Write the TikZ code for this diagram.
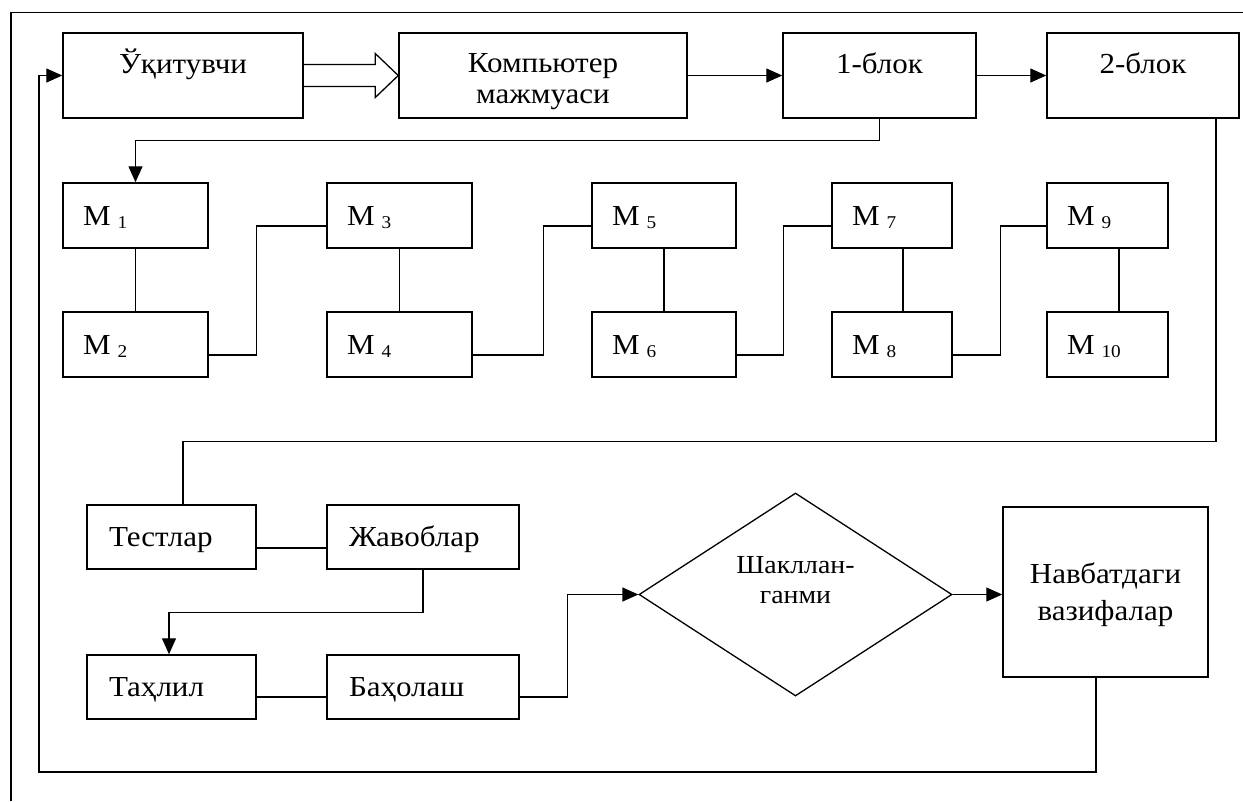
\documentclass[tikz,border=0pt]{standalone}
\usepackage{fontspec}
\setmainfont[FakeStretch=1.07]{Liberation Serif}
\usetikzlibrary{arrows.meta,calc,shapes.geometric}
\newcommand{\Ms}[1]{М\hspace{7pt}{\fontsize{18}{18}\selectfont\raisebox{-3pt}{#1}}}
\begin{document}
\begin{tikzpicture}[x=1pt,y=-1pt,
  font=\fontsize{29}{31}\selectfont,
  boxline/.style={draw, line width=1.5pt, inner sep=0pt},
  tbox/.style={boxline, minimum height=85pt, text height=19.2pt, text depth=24.2pt},
  mbox/.style={boxline, inner xsep=20pt, minimum height=65pt, text height=19.2pt, text depth=0pt},
  sbox/.style={boxline, inner xsep=22pt, minimum height=64pt, text height=19.2pt, text depth=0pt},
  conn/.style={line width=1.3pt},
  arr/.style={conn, -{Triangle[length=16pt,width=14pt]}},
]
\useasboundingbox (0,0) rectangle (1243,801);
% outer frame (partly outside the picture)
\draw[line width=1.5pt] (1243,12.7) -- (11,12.7) -- (11,801);

% top row
\node[tbox, minimum width=240pt] (u) at (183,75.5) {Ўқитувчи};
\node[tbox, minimum width=288pt, text depth=26.2pt] (k) at (543,75.5) {\begin{tabular}[t]{@{}c@{}}Компьютер\\мажмуаси\end{tabular}};
\node[tbox, minimum width=193pt] (b1) at (879.5,75.5) {1-блок};
\node[tbox, minimum width=192pt] (b2) at (1143,75.5) {2-блок};

% modules
\node[mbox, minimum width=145pt] (M1) at (135.5,215.5) {\makebox[105pt][l]{\Ms{1}}};
\node[mbox, minimum width=145pt] (M2) at (135.5,344.5) {\makebox[105pt][l]{\Ms{2}}};
\node[mbox, minimum width=145pt] (M3) at (399.5,215.5) {\makebox[105pt][l]{\Ms{3}}};
\node[mbox, minimum width=145pt] (M4) at (399.5,344.5) {\makebox[105pt][l]{\Ms{4}}};
\node[mbox, minimum width=144pt] (M5) at (664,215.5) {\makebox[104pt][l]{\Ms{5}}};
\node[mbox, minimum width=144pt] (M6) at (664,344.5) {\makebox[104pt][l]{\Ms{6}}};
\node[mbox, minimum width=120pt] (M7) at (892,215.5) {\makebox[80pt][l]{\Ms{7}}};
\node[mbox, minimum width=120pt] (M8) at (892,344.5) {\makebox[80pt][l]{\Ms{8}}};
\node[mbox, minimum width=121pt] (M9) at (1107.5,215.5) {\makebox[81pt][l]{\Ms{9}}};
\node[mbox, minimum width=121pt] (M10) at (1107.5,344.5) {\makebox[81pt][l]{\Ms{10}}};

% bottom part
\node[sbox, minimum width=169pt] (t) at (171.5,537) {\makebox[125pt][l]{Тестлар}};
\node[sbox, minimum width=192pt] (j) at (423,537) {\makebox[148pt][l]{Жавоблар}};
\node[sbox, minimum width=169pt] (th) at (171.5,687) {\makebox[125pt][l]{Таҳлил}};
\node[sbox, minimum width=192pt] (bh) at (423,687) {\makebox[148pt][l]{Баҳолаш}};

\node[draw, diamond, line width=1.3pt, inner sep=0pt, aspect=1.54,
      minimum width=313pt, minimum height=203pt,
      font=\fontsize{26}{30}\selectfont, text height=17.2pt, text depth=60.2pt]
      (d) at (795.5,594.5) {\begin{tabular}[t]{@{}c@{}}Шаклла\rlap{н-}\hphantom{н-}\\ганми\end{tabular}};
\node[boxline, minimum width=205pt, minimum height=170pt,
      font=\fontsize{29}{37}\selectfont, text height=19.2pt, text depth=37.2pt]
      (n) at (1105.5,592) {\begin{tabular}[t]{@{}c@{}}Навбатдаги\\вазифалар\end{tabular}};

% connectors
\draw[conn] ($(u.east)+(0,-11)$) -- ($(k.west)+(-23,-11)$) -- ($(k.west)+(-23,-22)$)
   -- (k.west) -- ($(k.west)+(-23,22)$) -- ($(k.west)+(-23,11)$) -- ($(u.east)+(0,11)$);
\draw[arr] (k.east) -- (b1.west);
\draw[arr] (b1.east) -- (b2.west);
\draw[arr] (b1.south) -- ++(0,22) -| (M1.north);

\draw[conn] (M1.south) -- (M2.north);
\draw[conn] ($(M2.east)+(0,10.5)$) -- ++(48,0) |- ($(M3.west)+(0,10.5)$);
\draw[conn] (M3.south) -- (M4.north);
\draw[conn] ($(M4.east)+(0,10.5)$) -- ++(71,0) |- ($(M5.west)+(0,10.5)$);
\draw[conn] (M5.south) -- (M6.north);
\draw[conn] ($(M6.east)+(0,10.5)$) -- ++(47,0) |- ($(M7.west)+(0,10.5)$);
\draw[conn] ($(M7.south)+(11,0)$) -- ($(M8.north)+(11,0)$);
\draw[conn] ($(M8.east)+(0,10.5)$) -- ++(48,0) |- ($(M9.west)+(0,10.5)$);
\draw[conn] ($(M9.south)+(11.5,0)$) -- ($(M10.north)+(11.5,0)$);

\draw[conn] ($(b2.south)+(73,0)$) -- ++(0,323) -| ($(t.north)+(11.5,0)$);
\draw[conn] ($(t.east)+(0,11)$) -- ($(j.west)+(0,11)$);
\draw[arr] (j.south) -- ++(0,43) -| ($(th.north)+(-2.5,0)$);
\draw[conn] ($(th.east)+(0,10)$) -- ($(bh.west)+(0,10)$);
\draw[arr] ($(bh.east)+(0,10)$) -- ++(48,0) |- (d.west);
\draw[arr] (d.east) -- (d.east -| n.west);

\coordinate (fbL) at (39,772);
\draw[arr] ($(n.south)+(-9.5,0)$) |- (fbL) |- (u.west);
\end{tikzpicture}
\end{document}
